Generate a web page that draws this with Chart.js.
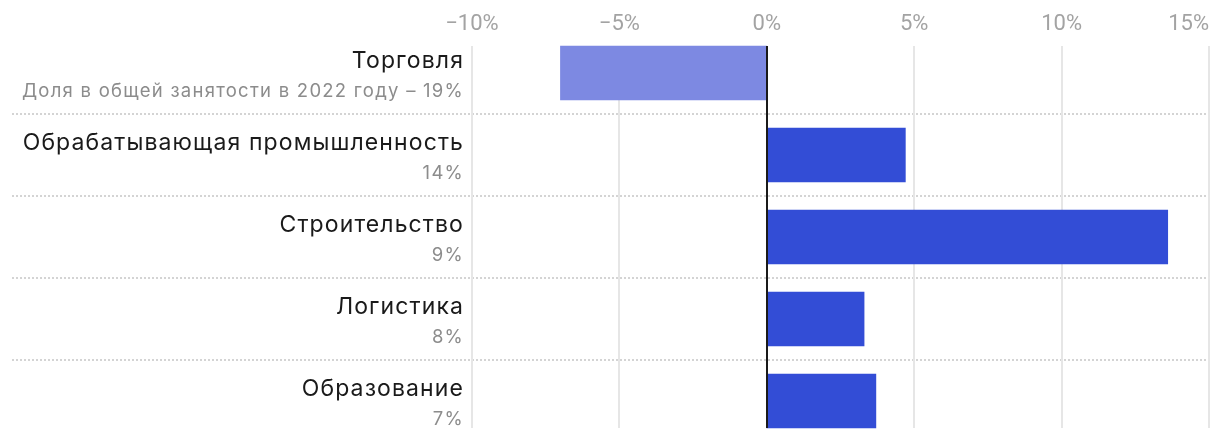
<!DOCTYPE html>
<html>
<head>
<meta charset="utf-8">
<script src="https://cdn.jsdelivr.net/npm/chart.js@4"></script>
<style>
  html, body { margin: 0; padding: 0; background: #fff; }
  #wrap { width: 1220px; height: 442px; }
</style>
</head>
<body>
<div id="wrap"><canvas id="jobsChart" width="1220" height="442"></canvas></div>
<script>
const categories = ['Торговля', 'Обрабатывающая промышленность', 'Строительство', 'Логистика', 'Образование'];
const shareLabels = ['Доля в общей занятости в 2022 году – 19%', '14%', '9%', '8%', '7%'];
const changeValues = [-7.0, 4.7, 13.6, 3.3, 3.7];
const tickValues = [-10, -5, 0, 5, 10, 15];

const TICK_FONT = 'Roboto, "Noto Sans", sans-serif';
const LABEL_FONT = 'Inter, "Noto Sans", sans-serif';
const BAR_H = 54;

function tickText(v) {
  return (v < 0 ? '\u2212' + Math.abs(v) : v) + '%';
}

// grid, row separators, labels drawn by hand to get the layout of the original
const decor = {
  id: 'decor',
  beforeDatasetsDraw(chart) {
    const { ctx, chartArea } = chart;
    const x = chart.scales.x, y = chart.scales.y;
    const top = y.getPixelForValue(0) - BAR_H / 2;
    const bottom = y.getPixelForValue(categories.length - 1) + BAR_H / 2;
    ctx.save();

    // dotted row separators
    ctx.strokeStyle = '#d4d4d4';
    ctx.lineWidth = 2;
    ctx.setLineDash([2, 2]);
    for (let i = 0; i < categories.length - 1; i++) {
      const yy = Math.round((y.getPixelForValue(i) + y.getPixelForValue(i + 1)) / 2);
      ctx.beginPath();
      ctx.moveTo(12, yy);
      ctx.lineTo(chartArea.right, yy);
      ctx.stroke();
    }

    // vertical grid
    ctx.setLineDash([]);
    ctx.strokeStyle = '#e6e6e6';
    tickValues.forEach(t => {
      if (t === 0) return;
      const xx = Math.round(x.getPixelForValue(t));
      ctx.beginPath();
      ctx.moveTo(xx, top);
      ctx.lineTo(xx, bottom);
      ctx.stroke();
    });

    // x tick labels on top
    ctx.font = '22px ' + TICK_FONT;
    ctx.fillStyle = '#a3a3a3';
    ctx.textBaseline = 'alphabetic';
    tickValues.forEach((t, i) => {
      const xx = x.getPixelForValue(t);
      ctx.textAlign = i === tickValues.length - 1 ? 'right' : 'center';
      ctx.fillText(tickText(t), xx, 30);
    });

    // category labels (loose tracking like the original)
    ctx.textAlign = 'right';
    categories.forEach((name, i) => {
      const cy = y.getPixelForValue(i);
      ctx.font = '23px ' + LABEL_FONT;
      ctx.letterSpacing = '1.1px';
      ctx.fillStyle = '#1a1a1a';
      ctx.fillText(name, 464, cy - 5);
      ctx.font = '18.5px ' + LABEL_FONT;
      ctx.letterSpacing = '1.25px';
      ctx.fillStyle = '#8c8c8c';
      ctx.fillText(shareLabels[i], 464, cy + 24);
    });
    ctx.restore();
  },
  afterDatasetsDraw(chart) {
    const { ctx } = chart;
    const x = chart.scales.x, y = chart.scales.y;
    const top = y.getPixelForValue(0) - BAR_H / 2;
    const bottom = y.getPixelForValue(categories.length - 1) + BAR_H / 2;
    const x0 = Math.round(x.getPixelForValue(0));
    ctx.save();
    ctx.strokeStyle = '#1a1a1a';
    ctx.lineWidth = 2;
    ctx.beginPath();
    ctx.moveTo(x0, top);
    ctx.lineTo(x0, bottom);
    ctx.stroke();
    ctx.restore();
  }
};

function draw() {
  const ctx = document.getElementById('jobsChart').getContext('2d');
  new Chart(ctx, {
    type: 'bar',
    data: {
      labels: categories,
      datasets: [{
        data: changeValues,
        backgroundColor: c => c.raw < 0 ? '#7d89e2' : '#334dd6',
        borderWidth: 0,
        barThickness: BAR_H
      }]
    },
    options: {
      indexAxis: 'y',
      responsive: false,
      animation: false,
      layout: {
        padding: { left: 472, right: 11, top: 32, bottom: 0 }
      },
      scales: {
        x: { display: false, min: -10, max: 15 },
        y: { display: false }
      },
      plugins: {
        legend: { display: false },
        tooltip: { enabled: false }
      }
    },
    plugins: [decor]
  });
}

Promise.all([
  document.fonts.load('23px Inter', 'Торговля'),
  document.fonts.load('22px Roboto', '10%')
]).then(draw, draw);
</script>
</body>
</html>
